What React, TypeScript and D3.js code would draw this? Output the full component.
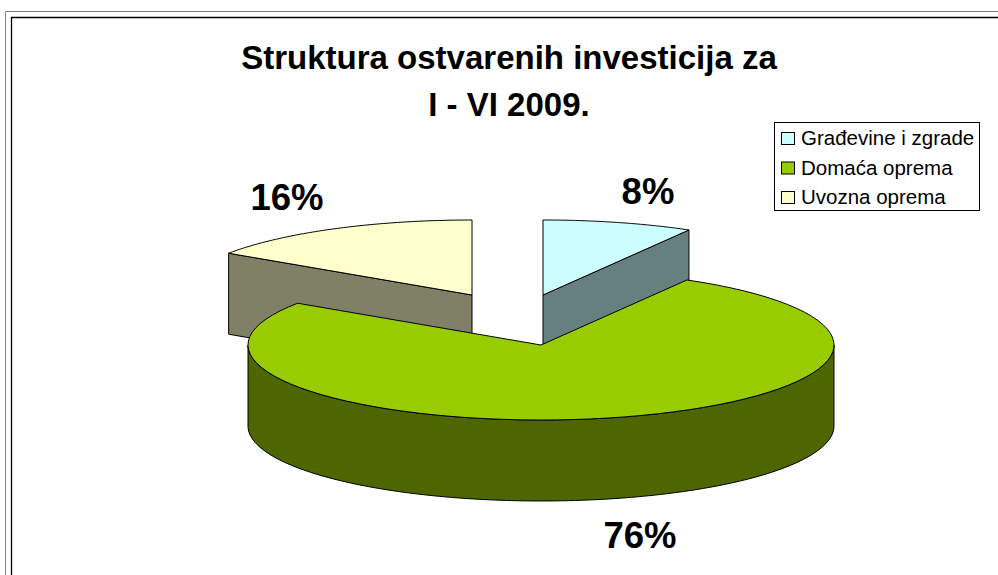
import React from "react";
import * as d3 from "d3";

const titleLines = ["Struktura ostvarenih investicija za", "I - VI 2009."];
const categories = ["Građevine i zgrade", "Domaća oprema", "Uvozna oprema"];
const values = [8.3, 76.1, 15.6];
const topColors = ["#CCFFFF", "#99CC00", "#FFFFCC"];
const sideColors = ["#668080", "#4D6600", "#808066"];
const percentLabels = ["8%", "76%", "16%"];

const W = 998, H = 575;
const RX = 293, RY = 75, DEPTH = 81;
const centers: [number, number][] = [[543, 295], [541, 345], [472, 295]];
const labelPos: [number, number][] = [[648, 204], [640, 548], [287, 210]];
const FONT = "'Liberation Sans', Arial, sans-serif";

const pie = d3.pie<number>().sort(null).startAngle(0).endAngle(2 * Math.PI);
const arcs = pie(values);
const sweep = d3.scaleLinear();
const line = d3.line<[number, number]>();

function pt(c: [number, number], a: number, dy = 0): [number, number] {
  return [c[0] + RX * Math.sin(a), c[1] - RY * Math.cos(a) + dy];
}
function arcPts(c: [number, number], a0: number, a1: number, dy = 0): [number, number][] {
  sweep.domain([0, 80]).range([a0, a1]);
  return d3.range(81).map((i) => pt(c, sweep(i), dy));
}
function topPath(i: number) {
  const c = centers[i];
  return line([c, ...arcPts(c, arcs[i].startAngle, arcs[i].endAngle)]) + "Z";
}
function outerSide(i: number, a0: number, a1: number) {
  const c = centers[i];
  return line([...arcPts(c, a0, a1), ...arcPts(c, a1, a0, DEPTH)]) + "Z";
}
function radialSide(i: number, a: number) {
  const c = centers[i];
  return line([c, pt(c, a), pt(c, a, DEPTH), [c[0], c[1] + DEPTH]]) + "Z";
}

export default function App() {
  const st = { stroke: "#000", strokeWidth: 1, strokeLinejoin: "round" as const };
  return (
    <svg width={W} height={H} style={{ position: "absolute", left: 0, top: 0, background: "#fff" }}>
      <path d={`M5.5 ${H}V11.5H${W}`} fill="none" stroke="#808080" strokeWidth={1} />
      <path d={`M11.5 ${H}V17.5H${W}`} fill="none" stroke="#000" strokeWidth={1.3} />
      {titleLines.map((t, i) => (
        <text key={t} x={509} y={69 + i * 47} textAnchor="middle" fontFamily={FONT} fontWeight="bold" fontSize={33}>{t}</text>
      ))}

      {/* back slices, drawn first so the large slice overlaps their sides */}
      <path d={radialSide(0, arcs[0].endAngle)} fill={sideColors[0]} {...st} />
      <path d={topPath(0)} fill={topColors[0]} {...st} />
      <path d={radialSide(2, arcs[2].startAngle)} fill={sideColors[2]} {...st} />
      <path d={topPath(2)} fill={topColors[2]} {...st} />

      {/* large slice */}
      <path d={outerSide(1, Math.PI / 2, (3 * Math.PI) / 2)} fill={sideColors[1]} {...st} />
      <path d={topPath(1)} fill={topColors[1]} {...st} />

      {percentLabels.map((t, i) => (
        <text key={t} x={labelPos[i][0]} y={labelPos[i][1]} textAnchor="middle" fontFamily={FONT} fontWeight="bold" fontSize={36.5}>{t}</text>
      ))}

      <rect x={774.5} y={122.5} width={205} height={88} fill="#fff" stroke="#000" strokeWidth={1} />
      {categories.map((t, i) => (
        <g key={t}>
          <rect x={781.5} y={132.5 + i * 29.5} width={13} height={12} fill={topColors[i]} stroke="#000" strokeWidth={1} />
          <text x={801} y={145 + i * 29.5} fontFamily={FONT} fontSize={20.5}>{t}</text>
        </g>
      ))}
    </svg>
  );
}
